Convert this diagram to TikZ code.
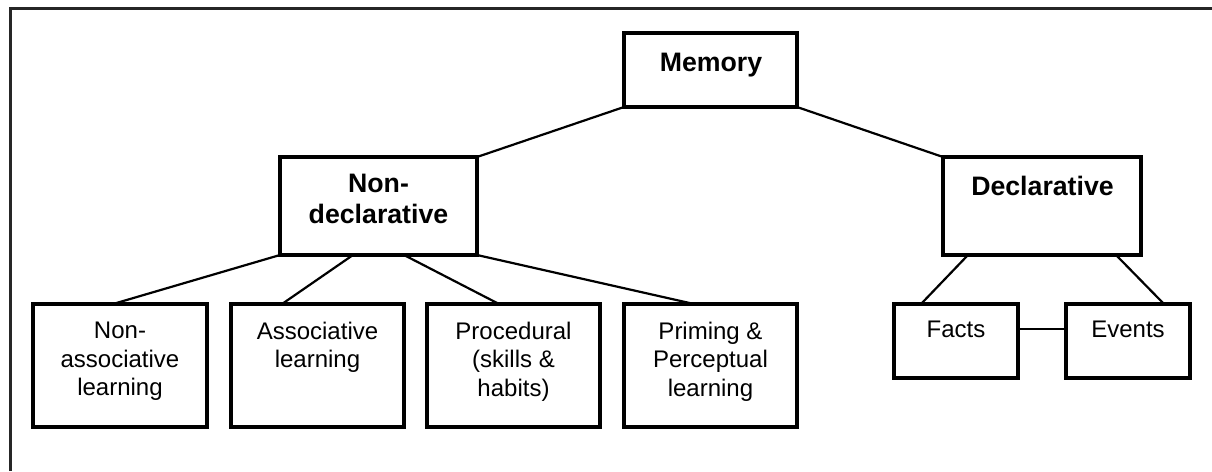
\documentclass[tikz,border=0pt]{standalone}
\usepackage{fontspec}
\setmainfont{Liberation Sans}
\begin{document}
\begin{tikzpicture}[x=1pt,y=-1pt,
  box/.style={draw=black,line width=3.2pt,minimum width=#1,minimum height=74pt,inner sep=0pt,outer sep=0pt},
  tall/.style={minimum height=98pt},
  taller/.style={minimum height=123pt},
  lbl/.style={inner sep=0pt,anchor=north,align=center,font=\fontsize{24}{28.3}\selectfont},
  blbl/.style={inner sep=0pt,anchor=north,align=center,font=\fontsize{26.7}{30.5}\selectfont\bfseries},
  conn/.style={draw=black,line width=2.2pt}]
\useasboundingbox (0,0) rectangle (1212,471);
\draw[line width=3pt,draw=black!85] (10,471) -- (10,8) -- (1212,8);
% boxes
\node[box=173pt] (mem) at (710.5,70) {};
\node[box=197pt,tall] (nd) at (378.5,206) {};
\node[box=198pt,tall] (dec) at (1042,206) {};
\node[box=174pt,taller] (b1) at (120,365.5) {};
\node[box=173pt,taller] (b2) at (317.5,365.5) {};
\node[box=173pt,taller] (b3) at (513.5,365.5) {};
\node[box=173pt,taller] (b4) at (710.5,365.5) {};
\node[box=124pt] (facts) at (956,341) {};
\node[box=124pt] (events) at (1128,341) {};
% labels
\node[blbl] (tmem) at (711,53) {Memory};
\node[blbl] (tnd) at (378.5,174) {Non-\\declarative};
\node[blbl] (tdec) at (1042.5,176) {Declarative};
\node[lbl] (t1) at (120,322) {Non-\\associative\\learning};
\node[lbl] (t2) at (317.5,322) {Associative\\learning};
\node[lbl] (t3) at (513.5,322) {Procedural\\(skills \&\\habits)};
\node[lbl] (t4) at (710.5,322) {Priming \&\\Perceptual\\learning};
\node[lbl] (tf) at (956,321) {Facts};
\node[lbl] (te) at (1128,321) {Events};
% connectors
\draw[conn] (mem.south west) -- (nd.north east);
\draw[conn] (mem.south east) -- (dec.north west);
\draw[conn] (nd.south west) -- ([xshift=-7pt]b1.north);
\draw[conn] ([xshift=73pt]nd.south west) -- ([xshift=-35.5pt]b2.north);
\draw[conn] ([xshift=124pt]nd.south west) -- ([xshift=-14.5pt]b3.north);
\draw[conn] (nd.south east) -- ([xshift=-16.5pt]b4.north);
\draw[conn] ([xshift=25pt]dec.south west) -- ([xshift=-35pt]facts.north);
\draw[conn] ([xshift=-25pt]dec.south east) -- ([xshift=36pt]events.north);
\draw[conn] ([yshift=12pt]facts.east) -- ([yshift=12pt]events.west);
\end{tikzpicture}
\end{document}
